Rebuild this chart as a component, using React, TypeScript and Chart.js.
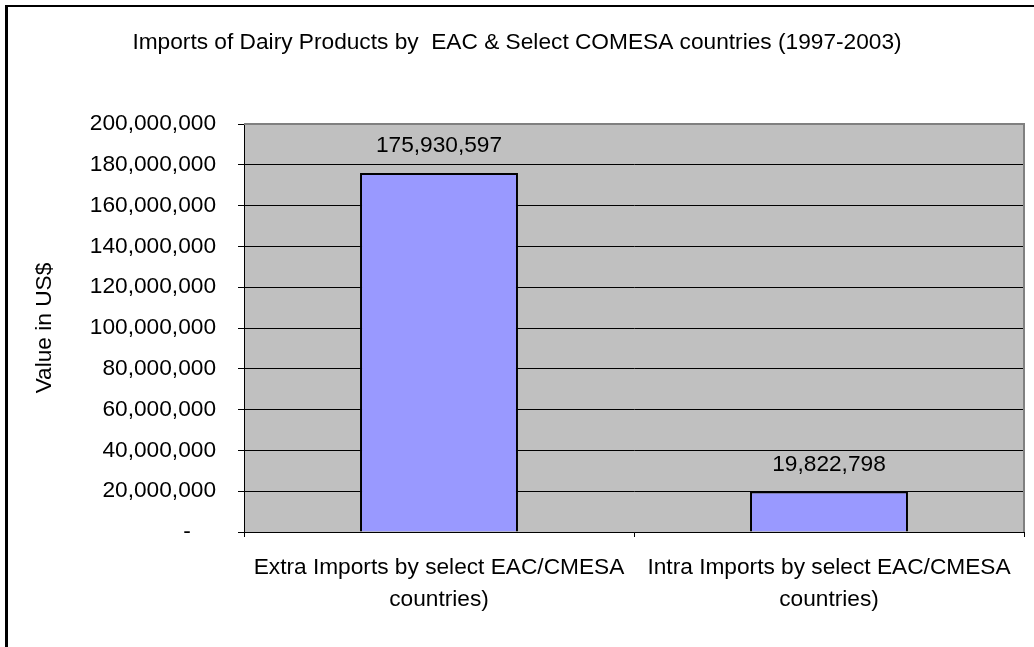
import React, { useEffect, useRef } from "react";
import { Chart, registerables } from "chart.js";

Chart.register(...registerables);

const titleText = "Imports of Dairy Products by  EAC & Select COMESA countries (1997-2003)";
const yAxisTitle = "Value in US$";
const categories: string[][] = [
  ["Extra Imports by select EAC/CMESA", "countries)"],
  ["Intra Imports by select EAC/CMESA", "countries)"],
];
const values: number[] = [175930597, 19822798];
const yMin = 0;
const yMax = 200000000;
const yStep = 20000000;

const FONT = "'Liberation Sans', Arial, sans-serif";
const FS = 22.7;

const fmt = (v: number) => v.toLocaleString("en-US");

export default function App() {
  const ref = useRef<HTMLCanvasElement | null>(null);

  useEffect(() => {
    if (!ref.current) return;
    const decor = {
      id: "decor",
      beforeDraw(chart: any) {
        const { ctx, chartArea } = chart;
        ctx.save();
        ctx.fillStyle = "#ffffff";
        ctx.fillRect(0, 0, chart.width, chart.height);
        // outer border (top & left visible)
        ctx.fillStyle = "#000000";
        ctx.fillRect(5, 5, 3, chart.height);
        ctx.fillRect(5, 5, chart.width, 2);
        // plot background
        ctx.fillStyle = "#C0C0C0";
        ctx.fillRect(chartArea.left, chartArea.top, chartArea.right - chartArea.left, chartArea.bottom - chartArea.top);
        // title
        ctx.fillStyle = "#000";
        ctx.font = `${FS}px ${FONT}`;
        ctx.textAlign = "center";
        ctx.textBaseline = "middle";
        ctx.fillText(titleText, 517, 43);
        ctx.restore();
      },
      afterDatasetsDraw(chart: any) {
        const { ctx, chartArea } = chart;
        ctx.save();
        // gray top/right border of plot area
        ctx.strokeStyle = "#808080";
        ctx.lineWidth = 2;
        ctx.beginPath();
        ctx.moveTo(chartArea.left, chartArea.top);
        ctx.lineTo(chartArea.right, chartArea.top);
        ctx.lineTo(chartArea.right, chartArea.bottom);
        ctx.stroke();
        // data labels
        const meta = chart.getDatasetMeta(0);
        ctx.fillStyle = "#000";
        ctx.font = `${FS}px ${FONT}`;
        ctx.textAlign = "center";
        ctx.textBaseline = "alphabetic";
        meta.data.forEach((bar: any, i: number) => {
          ctx.fillText(fmt(values[i]), bar.x, bar.y - 21);
        });
        ctx.restore();
      },
    };

    const chart = new Chart(ref.current, {
      type: "bar",
      data: {
        labels: categories as any,
        datasets: [
          {
            data: values,
            backgroundColor: "#9999FF",
            borderColor: "#000000",
            borderWidth: 2,
            categoryPercentage: 1,
            barPercentage: 0.405,
          },
        ],
      },
      options: {
        responsive: false,
        animation: false,
        devicePixelRatio: 1,
        layout: { padding: { left: 0, top: 124, right: 10, bottom: 0 } },
        plugins: {
          legend: { display: false },
          tooltip: { enabled: false },
          title: { display: false },
        },
        scales: {
          x: {
            grid: {
              offset: true,
              drawOnChartArea: false,
              drawTicks: true,
              tickLength: 5,
              color: "#000",
            },
            border: { color: "#000", width: 1 },
            ticks: {
              color: "#000",
              font: { family: FONT, size: FS, lineHeight: 1.41 },
              padding: 15,
              maxRotation: 0,
              autoSkip: false,
            },
            afterFit(scale: any) {
              scale.height = 115;
            },
          },
          y: {
            min: yMin,
            max: yMax,
            grid: {
              color: "#000",
              lineWidth: 1,
              drawTicks: true,
              tickLength: 6,
            },
            border: { color: "#000", width: 1 },
            ticks: {
              stepSize: yStep,
              color: "#000",
              padding: 22,
              font: { family: FONT, size: FS },
              callback: (v: any) => (Number(v) === 0 ? "-    " : fmt(Number(v))),
            },
            title: {
              display: true,
              text: yAxisTitle,
              color: "#000",
              font: { family: FONT, size: FS },
              padding: { top: 31, bottom: 0 },
            },
            afterFit(scale: any) {
              scale.width = 244;
            },
          },
        },
      },
      plugins: [decor],
    });
    return () => chart.destroy();
  }, []);

  return (
    <div style={{ position: "absolute", left: 0, top: 0, width: 1034, height: 647 }}>
      <canvas ref={ref} width={1034} height={647} style={{ display: "block" }} />
    </div>
  );
}
